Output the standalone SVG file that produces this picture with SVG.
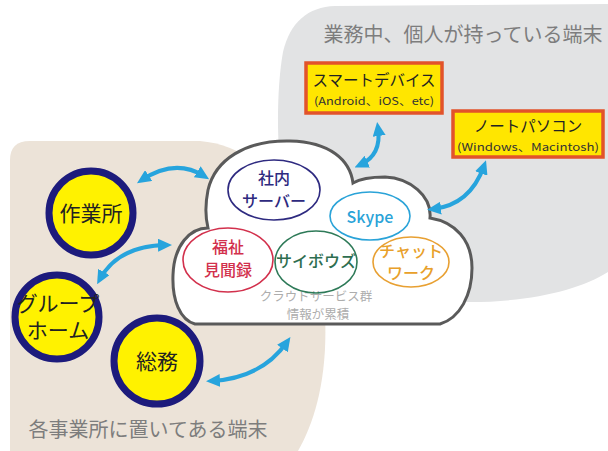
<svg xmlns="http://www.w3.org/2000/svg" width="608" height="451" viewBox="0 0 608 451">
<defs>
<style>
text{font-family:"Noto Sans CJK JP","Noto Sans",sans-serif;text-anchor:middle}
.area{font-size:20px;fill:#7d7d7d}
.site circle{fill:#fff200;stroke:#1d1b7c;stroke-width:7}
.site text{font-size:21px;fill:#222}
.dev rect{fill:#ffe600;stroke:#e2532a;stroke-width:3.5}
.dev .t{font-size:15.5px;fill:#222}
.dev .s{font-size:11px;fill:#333}
.svc ellipse{fill:none;stroke-width:1.6}
.svc text{font-size:16px;font-weight:500}
.conn path{fill:none;stroke:#27a4dd;stroke-width:4;stroke-linecap:round;marker-start:url(#ah);marker-end:url(#ah)}
</style>
<marker id="ah" markerUnits="userSpaceOnUse" markerWidth="14" markerHeight="13" refX="8" refY="6.5" orient="auto-start-reverse">
<path d="M0,0 L14,6.5 L0,13 Z" fill="#27a4dd"/>
</marker>
</defs>
<rect width="608" height="451" fill="#ffffff"/>
<path id="personal-area" d="M608,4 L335,6 C308,7 290,22 283,52 C277,85 276,140 282,180 C300,262 385,302 470,302 C530,302 580,290 608,272 Z" fill="#e2e3e4"/>
<path id="office-area" d="M10,451 L10,160 C10,148 16,141 30,141 L200,141 C262,146 312,205 324,300 C330,370 316,420 298,451 Z" fill="#ece3d8"/>
<text class="area" x="463" y="42">業務中、個人が持っている端末</text>
<text class="area" x="148" y="437">各事業所に置いてある端末</text>
<g id="cloud">
<path d="M195,324 L440,324 C460,318 472,295 472,268 C472,240 455,222 430,218 C432,196 410,178 385,177 C370,177 358,180 353,183 C350,160 330,142 290,141 C245,140 215,160 208,190 C205,205 206,220 208,228 C190,228 174,245 173,275 C172,300 180,320 195,324 Z" fill="#ffffff" stroke="#5a5a5a" stroke-width="3"/>
<text x="316" y="301" font-size="12.5" fill="#adadad">クラウドサービス群</text>
<text x="318" y="319" font-size="12.5" fill="#adadad">情報が累積</text>
</g>
<g id="svc-server" class="svc">
<ellipse cx="274" cy="190" rx="46" ry="30" stroke="#2e2a80"/>
<text x="274" y="184" fill="#2e2a80">社内</text>
<text x="274" y="207" fill="#2e2a80">サーバー</text>
</g>
<g id="svc-skype" class="svc">
<ellipse cx="370" cy="216" rx="40" ry="24" stroke="#2aa3d8"/>
<text x="370" y="223" fill="#2aa3d8" font-size="18">Skype</text>
</g>
<g id="svc-fukushi" class="svc">
<ellipse cx="228" cy="260" rx="45" ry="32" stroke="#d2304c"/>
<text x="228" y="253" fill="#d2304c">福祉</text>
<text x="228" y="276" fill="#d2304c">見聞録</text>
</g>
<g id="svc-cybozu" class="svc">
<ellipse cx="316" cy="262" rx="41" ry="31" stroke="#2e7a58"/>
<text x="316" y="267" fill="#2e6e50" font-size="13.5">サイボウズ</text>
</g>
<g id="svc-chatwork" class="svc">
<ellipse cx="411" cy="262" rx="38" ry="25" stroke="#e8a032"/>
<text x="411" y="257" fill="#e8a02a" font-size="14">チャット</text>
<text x="411" y="279" fill="#e8a02a" font-size="14">ワーク</text>
</g>
<g id="site-sagyousho" class="site">
<circle cx="91" cy="213" r="42"/>
<text x="91" y="221">作業所</text>
</g>
<g id="site-grouphome" class="site">
<circle cx="57" cy="317" r="42"/>
<text x="58" y="311" font-size="18.5">グループ</text>
<text x="58" y="338" font-size="18.5">ホーム</text>
</g>
<g id="site-soumu" class="site">
<circle cx="157" cy="361" r="43"/>
<text x="157" y="369">総務</text>
</g>
<g id="dev-smart" class="dev">
<rect x="306" y="63" width="136" height="50"/>
<text class="t" x="374" y="86">スマートデバイス</text>
<text class="s" x="374" y="105" textLength="120" lengthAdjust="spacingAndGlyphs">(Android、iOS、etc)</text>
</g>
<g id="dev-note" class="dev">
<rect x="453" y="111" width="150" height="46"/>
<text class="t" x="528" y="132">ノートパソコン</text>
<text class="s" x="528" y="151" textLength="142" lengthAdjust="spacingAndGlyphs">(Windows、Macintosh)</text>
</g>
<g id="connectors" class="conn">
<path d="M142,180 Q175,158 204,176"/>
<path d="M100,279 Q118,246 166,245"/>
<path d="M212,381 Q262,378 287,342"/>
<path d="M378,128 Q382,155 360,165"/>
<path d="M433,209 Q470,205 484,166"/>
</g>
</svg>
